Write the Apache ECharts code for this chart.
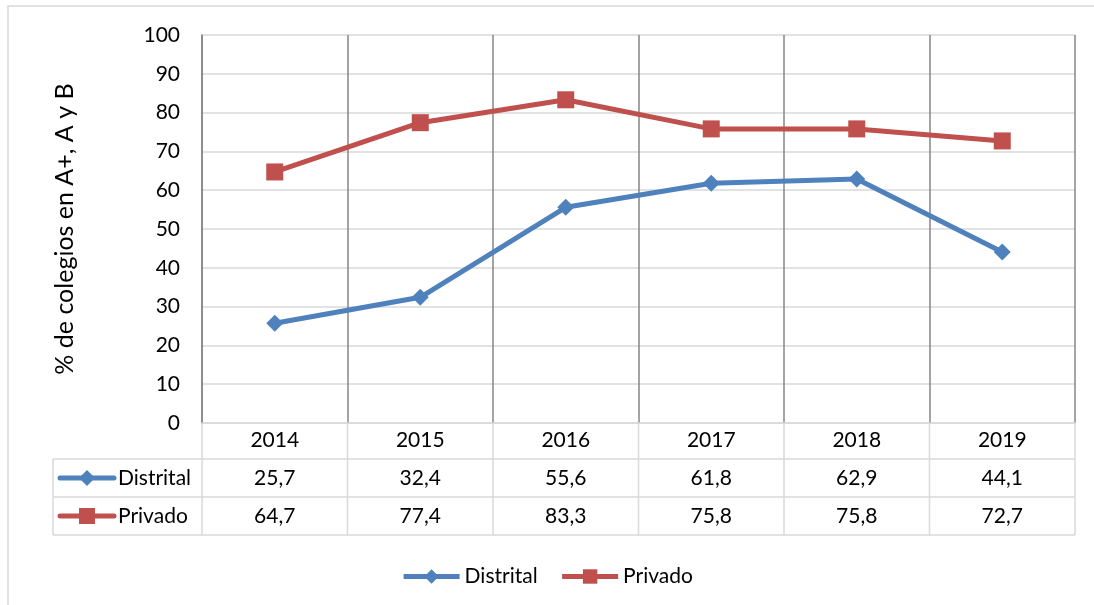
<!DOCTYPE html>
<html>
<head>
<meta charset="utf-8">
<script src="https://cdn.jsdelivr.net/npm/echarts@6/dist/echarts.min.js"></script>
<style>
  html, body { margin: 0; padding: 0; background: #fff; }
  #main { width: 1094px; height: 605px; }
</style>
</head>
<body>
<div id="main"></div>
<script>
// datos del gráfico
var years = ['2014', '2015', '2016', '2017', '2018', '2019']
var distrital = [25.7, 32.4, 55.6, 61.8, 62.9, 44.1]
var privado = [64.7, 77.4, 83.3, 75.8, 75.8, 72.7]
var seriesNames = ['Distrital', 'Privado']
var yTitle = '% de colegios en A+, A y B'

var blue = '#4F81BD'
var red = '#C0504D'
var font = 'Lato, "Open Sans", sans-serif'
var fs = 21
var fmt = function (v) { return v.toFixed(1).replace('.', ',') }

var myChart = echarts.init(document.getElementById('main'))

// eje extra para cada fila de la tabla de datos
function tableAxis(vals, offset) {
  return {
    type: 'category',
    data: vals.map(fmt),
    position: 'bottom',
    offset: offset,
    axisLine: { show: false },
    axisTick: { show: false },
    splitLine: { show: false },
    axisLabel: { margin: 7, fontSize: fs, color: '#000', fontFamily: font }
  }
}

var options = {
  backgroundColor: '#fff',
  animation: false,
  grid: { left: 202, right: 19, top: 35, bottom: 182 },
  legend: {
    top: 561,
    left: 'center',
    itemWidth: 56,
    itemHeight: 18,
    itemGap: 22,
    lineStyle: { width: 5 },
    textStyle: { fontSize: fs, color: '#000', fontFamily: font },
    data: seriesNames
  },
  xAxis: [
    {
      type: 'category',
      data: years,
      boundaryGap: true,
      axisLine: { lineStyle: { color: '#D9D9D9', width: 1.5 } },
      axisTick: { show: false },
      splitLine: { show: true, lineStyle: { color: '#868686', width: 1.5 } },
      axisLabel: { margin: 7, fontSize: fs, color: '#000', fontFamily: font }
    },
    tableAxis(distrital, 38),
    tableAxis(privado, 76)
  ],
  yAxis: {
    type: 'value',
    min: 0,
    max: 100,
    interval: 10,
    name: yTitle,
    nameLocation: 'middle',
    nameGap: 125,
    nameTextStyle: { fontSize: 25, color: '#000', fontFamily: font },
    axisLine: { show: true, lineStyle: { color: '#868686', width: 1.5 } },
    axisTick: { show: false },
    splitLine: { lineStyle: { color: '#D9D9D9', width: 1.5 } },
    axisLabel: { margin: 22, fontSize: fs, color: '#000', fontFamily: font }
  },
  series: [
    {
      name: seriesNames[0],
      type: 'line',
      data: distrital,
      symbol: 'diamond',
      symbolSize: 17,
      lineStyle: { color: blue, width: 5 },
      itemStyle: { color: blue }
    },
    {
      name: seriesNames[1],
      type: 'line',
      data: privado,
      symbol: 'rect',
      symbolSize: 17,
      lineStyle: { color: red, width: 5 },
      itemStyle: { color: red }
    }
  ]
}

myChart.setOption(options)

// tabla de datos: líneas y claves de la leyenda
var gray = '#D9D9D9'
var x0 = 202, x1 = 1075, xl = 53
var yTop = 423, yR1 = 459, yR2 = 497, yR3 = 535
var els = []
function line(xa, ya, xb, yb, color, w) {
  els.push({ type: 'line', shape: { x1: xa, y1: ya, x2: xb, y2: yb }, style: { stroke: color, lineWidth: w }, silent: true })
}
line(xl, yR1, x1, yR1, gray, 1.5)
line(xl, yR2, x1, yR2, gray, 1.5)
line(xl, yR3, x1, yR3, gray, 1.5)
line(xl, yR1, xl, yR3, gray, 1.5)
for (var i = 0; i <= years.length; i++) {
  var bx = x0 + (x1 - x0) * i / years.length
  line(bx, yTop, bx, yR3, gray, 1.5)
}
// borde exterior
els.push({ type: 'rect', shape: { x: 8, y: 6, width: 1200, height: 700 }, style: { fill: 'none', stroke: gray, lineWidth: 1.5 }, silent: true })

var keyRows = [
  { name: seriesNames[0], color: blue, sym: 'diamond', y: (yR1 + yR2) / 2 },
  { name: seriesNames[1], color: red, sym: 'rect', y: (yR2 + yR3) / 2 }
]
keyRows.forEach(function (k) {
  els.push({ type: 'line', shape: { x1: 60, y1: k.y, x2: 114, y2: k.y }, style: { stroke: k.color, lineWidth: 5, lineCap: 'round' }, silent: true })
  if (k.sym === 'diamond') {
    els.push({ type: 'polygon', shape: { points: [[87, k.y - 8], [95, k.y], [87, k.y + 8], [79, k.y]] }, style: { fill: k.color }, silent: true })
  } else {
    els.push({ type: 'rect', shape: { x: 79, y: k.y - 8, width: 16, height: 16 }, style: { fill: k.color }, silent: true })
  }
  els.push({ type: 'text', x: 118, y: k.y, style: { text: k.name, fontSize: fs, fontFamily: font, fill: '#000', verticalAlign: 'middle', align: 'left' }, silent: true })
})

myChart.setOption({ graphic: els })
</script>
</body>
</html>
